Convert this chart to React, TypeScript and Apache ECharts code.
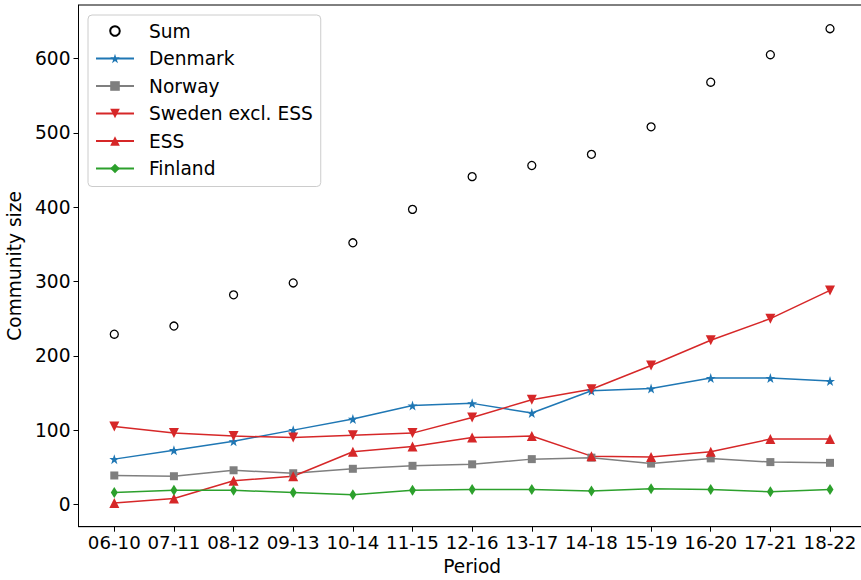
import React, { useEffect, useRef } from "react";
import * as echarts from "echarts";

const categories = ["06-10", "07-11", "08-12", "09-13", "10-14", "11-15", "12-16", "13-17", "14-18", "15-19", "16-20", "17-21", "18-22"];
const sumValues = [229, 240, 282, 298, 352, 397, 441, 456, 471, 508, 568, 605, 640];
const denmarkValues = [61, 73, 85, 100, 115, 133, 136, 123, 153, 156, 170, 170, 166];
const norwayValues = [39, 38, 46, 42, 48, 52, 54, 61, 63, 55, 62, 57, 56];
const swedenValues = [105, 96, 92, 90, 93, 96, 117, 141, 155, 187, 221, 250, 288];
const essValues = [2, 8, 32, 38, 71, 78, 90, 92, 65, 64, 71, 88, 88];
const finlandValues = [16, 19, 19, 16, 13, 19, 20, 20, 18, 21, 20, 17, 20];
const yTicks = [0, 100, 200, 300, 400, 500, 600];

const STAR =
  "path://M50,0 L61.8,35.1 L97.6,34.5 L68.7,55.9 L79.4,90.5 L50,69.5 L20.6,90.5 L31.3,55.9 L2.4,34.5 L38.2,35.1 Z";

const FONT = "DejaVu Sans";

const toPairs = (arr: number[]) => arr.map((v, i) => [i, v]);

export default function App() {
  const ref = useRef<HTMLDivElement>(null);

  useEffect(() => {
    if (!ref.current) return;
    const chart = echarts.init(ref.current, undefined, { renderer: "svg" });
    const xIdx = categories.map((_, i) => i);
    const allVals = [...sumValues, ...denmarkValues, ...norwayValues, ...swedenValues, ...essValues, ...finlandValues];
    const vmin = Math.min(...allVals);
    const vmax = Math.max(...allVals);
    const pad = (vmax - vmin) * 0.05;
    const xPad = (categories.length - 1) * 0.05;

    const lineSeries = (name: string, data: number[], color: string, symbol: string, symbolSize: any, extra: any = {}) => ({
      name,
      type: "line",
      data: toPairs(data),
      symbol,
      symbolSize,
      showSymbol: true,
      lineStyle: { color, width: 1.5 },
      itemStyle: { color },
      emphasis: { disabled: true },
      ...extra,
    });

    chart.setOption({
      animation: false,
      backgroundColor: "#ffffff",
      grid: {
        left: 78.5,
        top: 5,
        width: 787.3,
        height: 521.7,
        show: true,
        borderColor: "#000",
        borderWidth: 1,
        backgroundColor: "transparent",
        containLabel: false,
        outerBoundsMode: "none",
      },
      legend: {
        orient: "vertical",
        left: 88,
        top: 15,
        padding: [6, 8, 8, 7],
        itemWidth: 38,
        itemHeight: 12,
        itemGap: 7.5,
        backgroundColor: "rgba(255,255,255,0.8)",
        borderColor: "#cccccc",
        borderWidth: 1,
        borderRadius: 4,
        selectedMode: false,
        textStyle: { fontFamily: FONT, fontSize: 18.6, color: "#000", lineHeight: 20, padding: [0, 0, 0, 10] },
        data: ["Sum", "Denmark", "Norway", "Sweden excl. ESS", "ESS", "Finland"],
      },
      xAxis: {
        type: "value",
        min: -xPad,
        max: categories.length - 1 + xPad,
        name: "Period",
        nameLocation: "middle",
        nameGap: 29,
        nameTextStyle: { fontFamily: FONT, fontSize: 18.6, color: "#000" },
        axisLine: { show: true, onZero: false, lineStyle: { color: "#000", width: 1 } },
        axisTick: { show: true, length: 5, lineStyle: { color: "#000", width: 1 }, customValues: xIdx },
        axisLabel: {
          fontFamily: FONT,
          fontSize: 18.2,
          color: "#000",
          margin: 7,
          hideOverlap: false,
          customValues: xIdx,
          formatter: (v: number) => categories[Math.round(v)] ?? "",
        },
        splitLine: { show: false },
      },
      yAxis: {
        type: "value",
        min: vmin - pad,
        max: vmax + pad,
        name: "Community size",
        nameLocation: "middle",
        nameGap: 47,
        nameTextStyle: { fontFamily: FONT, fontSize: 18.6, color: "#000" },
        axisLine: { show: true, onZero: false, lineStyle: { color: "#000", width: 1 } },
        axisTick: { show: true, length: 5, lineStyle: { color: "#000", width: 1 }, customValues: yTicks },
        axisLabel: {
          fontFamily: FONT,
          fontSize: 18.6,
          color: "#000",
          margin: 8,
          customValues: yTicks,
          formatter: (v: number) => String(v),
        },
        splitLine: { show: false },
      },
      series: [
        {
          name: "Sum",
          type: "line",
          data: toPairs(sumValues),
          symbol: "circle",
          symbolSize: 8,
          lineStyle: { width: 0, opacity: 0, color: "#000" },
          itemStyle: { color: "#ffffff", borderColor: "#000", borderWidth: 1.3 },
          emphasis: { disabled: true },
        },
        lineSeries("Denmark", denmarkValues, "#1f77b4", STAR, 10),
        lineSeries("Norway", norwayValues, "#7f7f7f", "rect", 8),
        lineSeries("Sweden excl. ESS", swedenValues, "#d62728", "triangle", 10, { symbolRotate: 180 }),
        lineSeries("ESS", essValues, "#d62728", "triangle", 10),
        lineSeries("Finland", finlandValues, "#2ca02c", "diamond", [7, 11]),
      ],
    });
    return () => chart.dispose();
  }, []);

  return (
    <div
      ref={ref}
      style={{ position: "fixed", left: 0, top: 0, width: 861, height: 580, background: "#fff" }}
    />
  );
}
